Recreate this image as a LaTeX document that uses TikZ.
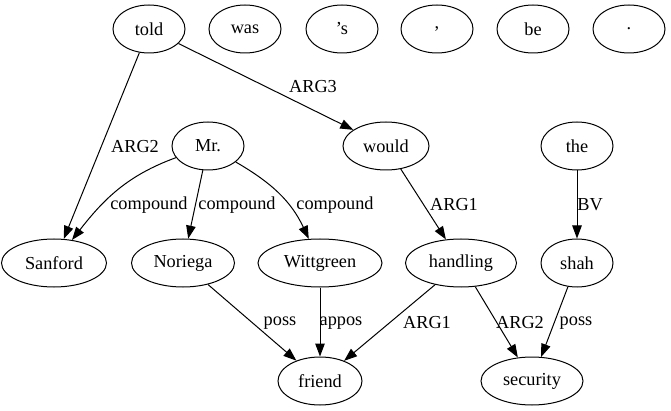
\documentclass[tikz,border=0pt]{standalone}
\usepackage{fontspec}
\setmainfont{Liberation Serif}
\usetikzlibrary{arrows.meta,shapes.geometric}
\begin{document}
\begin{tikzpicture}[x=1pt,y=-1pt,
 word/.style={ellipse,draw,line width=1pt,minimum height=48pt,inner sep=0pt,font=\fontsize{18.3}{22}\selectfont},
 edge/.style={draw,line width=1pt,-{Triangle[length=13pt,width=9.5pt]}},
 lab/.style={font=\fontsize{18.3}{22}\selectfont,inner sep=0pt,anchor=center}]
\path[use as bounding box, fill=white] (0,0) rectangle (671,411);
% top row
\node[word,minimum width=72pt] (told) at (149,29) {told};
\node[word,minimum width=72pt] (was) at (245,29) {was};
\node[word,minimum width=72pt] (s) at (342,29) {’s};
\node[word,minimum width=72pt] (comma) at (437,29) {,};
\node[word,minimum width=72pt] (be) at (533,29) {be};
\node[word,minimum width=72pt] (dot) at (629,29) {.};
% second row
\node[word,minimum width=72pt] (Mr) at (208,146) {Mr.};
\node[word,minimum width=86pt] (would) at (386,146) {would};
\node[word,minimum width=72pt] (the) at (577,146) {the};
% third row
\node[word,minimum width=105pt] (Sanford) at (54,263) {Sanford};
\node[word,minimum width=103pt] (Noriega) at (183,263) {Noriega};
\node[word,minimum width=124pt] (Wittgreen) at (320,263) {Wittgreen};
\node[word,minimum width=111pt] (handling) at (461,263) {handling};
\node[word,minimum width=72pt] (shah) at (577,263) {shah};
% bottom row
\node[word,minimum width=84pt] (friend) at (320,381) {friend};
\node[word,minimum width=102pt] (security) at (532,381) {security};
% edges
\draw[edge] (told) -- (Sanford) node[lab] at (135,147) {ARG2};
\draw[edge] (told) -- (would) node[lab] at (313,87) {ARG3};
\draw[edge] (Mr) to[out=200,in=52] (Sanford) node[lab] at (149,205) {compound};
\draw[edge] (Mr) -- (Noriega) node[lab] at (237,205) {compound};
\draw[edge] (Mr) to[out=-30,in=115] (Wittgreen) node[lab] at (335,205) {compound};
\draw[edge] (would) -- (handling) node[lab] at (454,205) {ARG1};
\draw[edge] (the) -- (shah) node[lab] at (590,205) {BV};
\draw[edge] (Noriega) -- (friend) node[lab] at (280,323) {poss};
\draw[edge] (Wittgreen) -- (friend) node[lab] at (341,323) {appos};
\draw[edge] (handling) -- (friend) node[lab] at (427,323) {ARG1};
\draw[edge] (handling) -- (security) node[lab] at (520,323) {ARG2};
\draw[edge] (shah) -- (security) node[lab] at (576,323) {poss};
\end{tikzpicture}
\end{document}
